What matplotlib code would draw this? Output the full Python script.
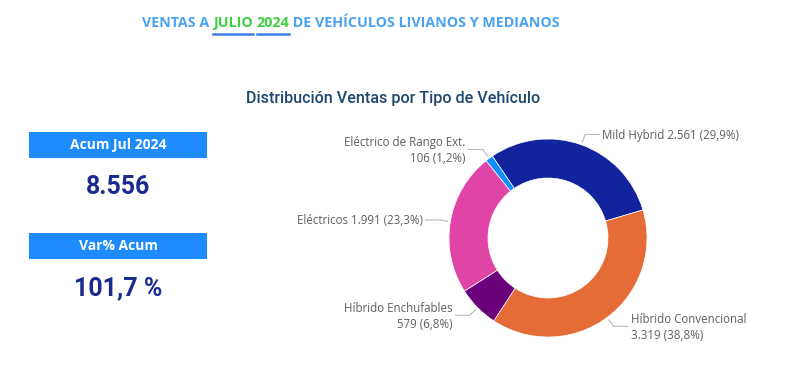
import matplotlib.pyplot as plt
import numpy as np

# datos del grafico
categorias = ['Mild Hybrid', 'Híbrido Convencional', 'Híbrido Enchufables',
              'Eléctricos', 'Eléctrico de Rango Ext.']
ventas = [2561, 3319, 579, 1991, 106]
etiquetas = ['Mild Hybrid 2.561 (29,9%)',
             'Híbrido Convencional\n3.319 (38,8%)',
             'Híbrido Enchufables\n579 (6,8%)',
             'Eléctricos 1.991 (23,3%)',
             'Eléctrico de Rango Ext.\n106 (1,2%)']
colores = ['#12239E', '#E66C37', '#6B007B', '#E044A7', '#118DFF']

titulo_partes = ['VENTAS A ', 'JULIO', ' ', '2024', ' DE VEHÍCULOS LIVIANOS Y MEDIANOS']
resaltados = ['JULIO', '2024']
subtitulo = 'Distribución Ventas por Tipo de Vehículo'
tarjetas = [('Acum Jul 2024', '8.556'), ('Var% Acum', '101,7 %')]

W, H = 800, 379
fig = plt.figure(figsize=(W / 100, H / 100), dpi=100)
fig.patch.set_facecolor('white')

# eje en pixeles para textos y tarjetas
base = fig.add_axes([0, 0, 1, 1])
base.set_xlim(0, W)
base.set_ylim(H, 0)
base.axis('off')

renderer = fig.canvas.get_renderer()
estilo_tit = dict(fontsize=10.3, fontweight='bold', family='Open Sans', va='center', ha='left')


def ancho(s):
    # ancho en pixeles, con marcador para no perder espacios
    if not s:
        return 0
    t = base.text(0, 0, s + '|', **estilo_tit)
    m = base.text(0, 0, '|', **estilo_tit)
    w = t.get_window_extent(renderer=renderer).width - m.get_window_extent(renderer=renderer).width
    t.remove()
    m.remove()
    return w


x_tit = 142
previo = ''
for parte in titulo_partes:
    xa = x_tit + ancho(previo)
    verde = parte in resaltados
    if parte.strip():
        base.text(xa, 23, parte.strip() if parte.startswith(' ') is False else parte,
                  color='#3ED13E' if verde else '#4AA3F2', **estilo_tit)
    if verde:
        base.plot([xa, xa + ancho(parte)], [33.5, 33.5], color='#3D7FE0', lw=1.8)
    previo += parte

base.text(393, 98, subtitulo, fontsize=11.6, family='Roboto', fontweight='medium',
          color='#1F4670', ha='center', va='center')

# tarjetas de la izquierda
for i, (cab, val) in enumerate(tarjetas):
    y0 = 132 + i * 101
    base.add_patch(plt.Rectangle((29, y0), 178, 26, color='#1E8CFF', lw=0))
    base.text(118, y0 + 13, cab, fontsize=10, fontweight='bold', family='Open Sans',
              color='white', ha='center', va='center')
    base.text(118, y0 + 55, val, fontsize=18, fontweight='bold', family='Roboto',
              color='#1A2A8F', ha='center', va='center')

# grafico de dona
cx, cy, r = 548, 238, 100
ax = fig.add_axes([(cx - 120) / W, 1 - (cy + 120) / H, 240 / W, 240 / H])
wedges, _ = ax.pie(ventas, colors=colores, startangle=124.2, counterclock=False,
                   radius=0.99, wedgeprops=dict(width=0.39, edgecolor='white', linewidth=0.5))
ax.set_xlim(-1.2, 1.2)
ax.set_ylim(-1.2, 1.2)
ax.set_aspect('equal')
ax.axis('off')

for w, etq in zip(wedges, etiquetas):
    ang = np.deg2rad((w.theta1 + w.theta2) / 2)
    x0, y0 = 1.02 * np.cos(ang), 1.02 * np.sin(ang)
    x1, y1 = 1.1 * np.cos(ang), 1.1 * np.sin(ang)
    lado = 1 if x1 > 0 else -1
    x2 = x1 + lado * 0.14
    ax.plot([x0, x1, x2], [y0, y1, y1], color='#B8B8B8', lw=0.8, clip_on=False)
    ax.text(x2 + lado * 0.03, y1 - 0.01, etq, fontsize=8.3, family='Open Sans', color='#605E5C',
            ha='left' if lado > 0 else 'right', va='center', linespacing=1.3,
            multialignment='left' if lado > 0 else 'right')

fig.savefig('out.png', dpi=100)
plt.close(fig)
